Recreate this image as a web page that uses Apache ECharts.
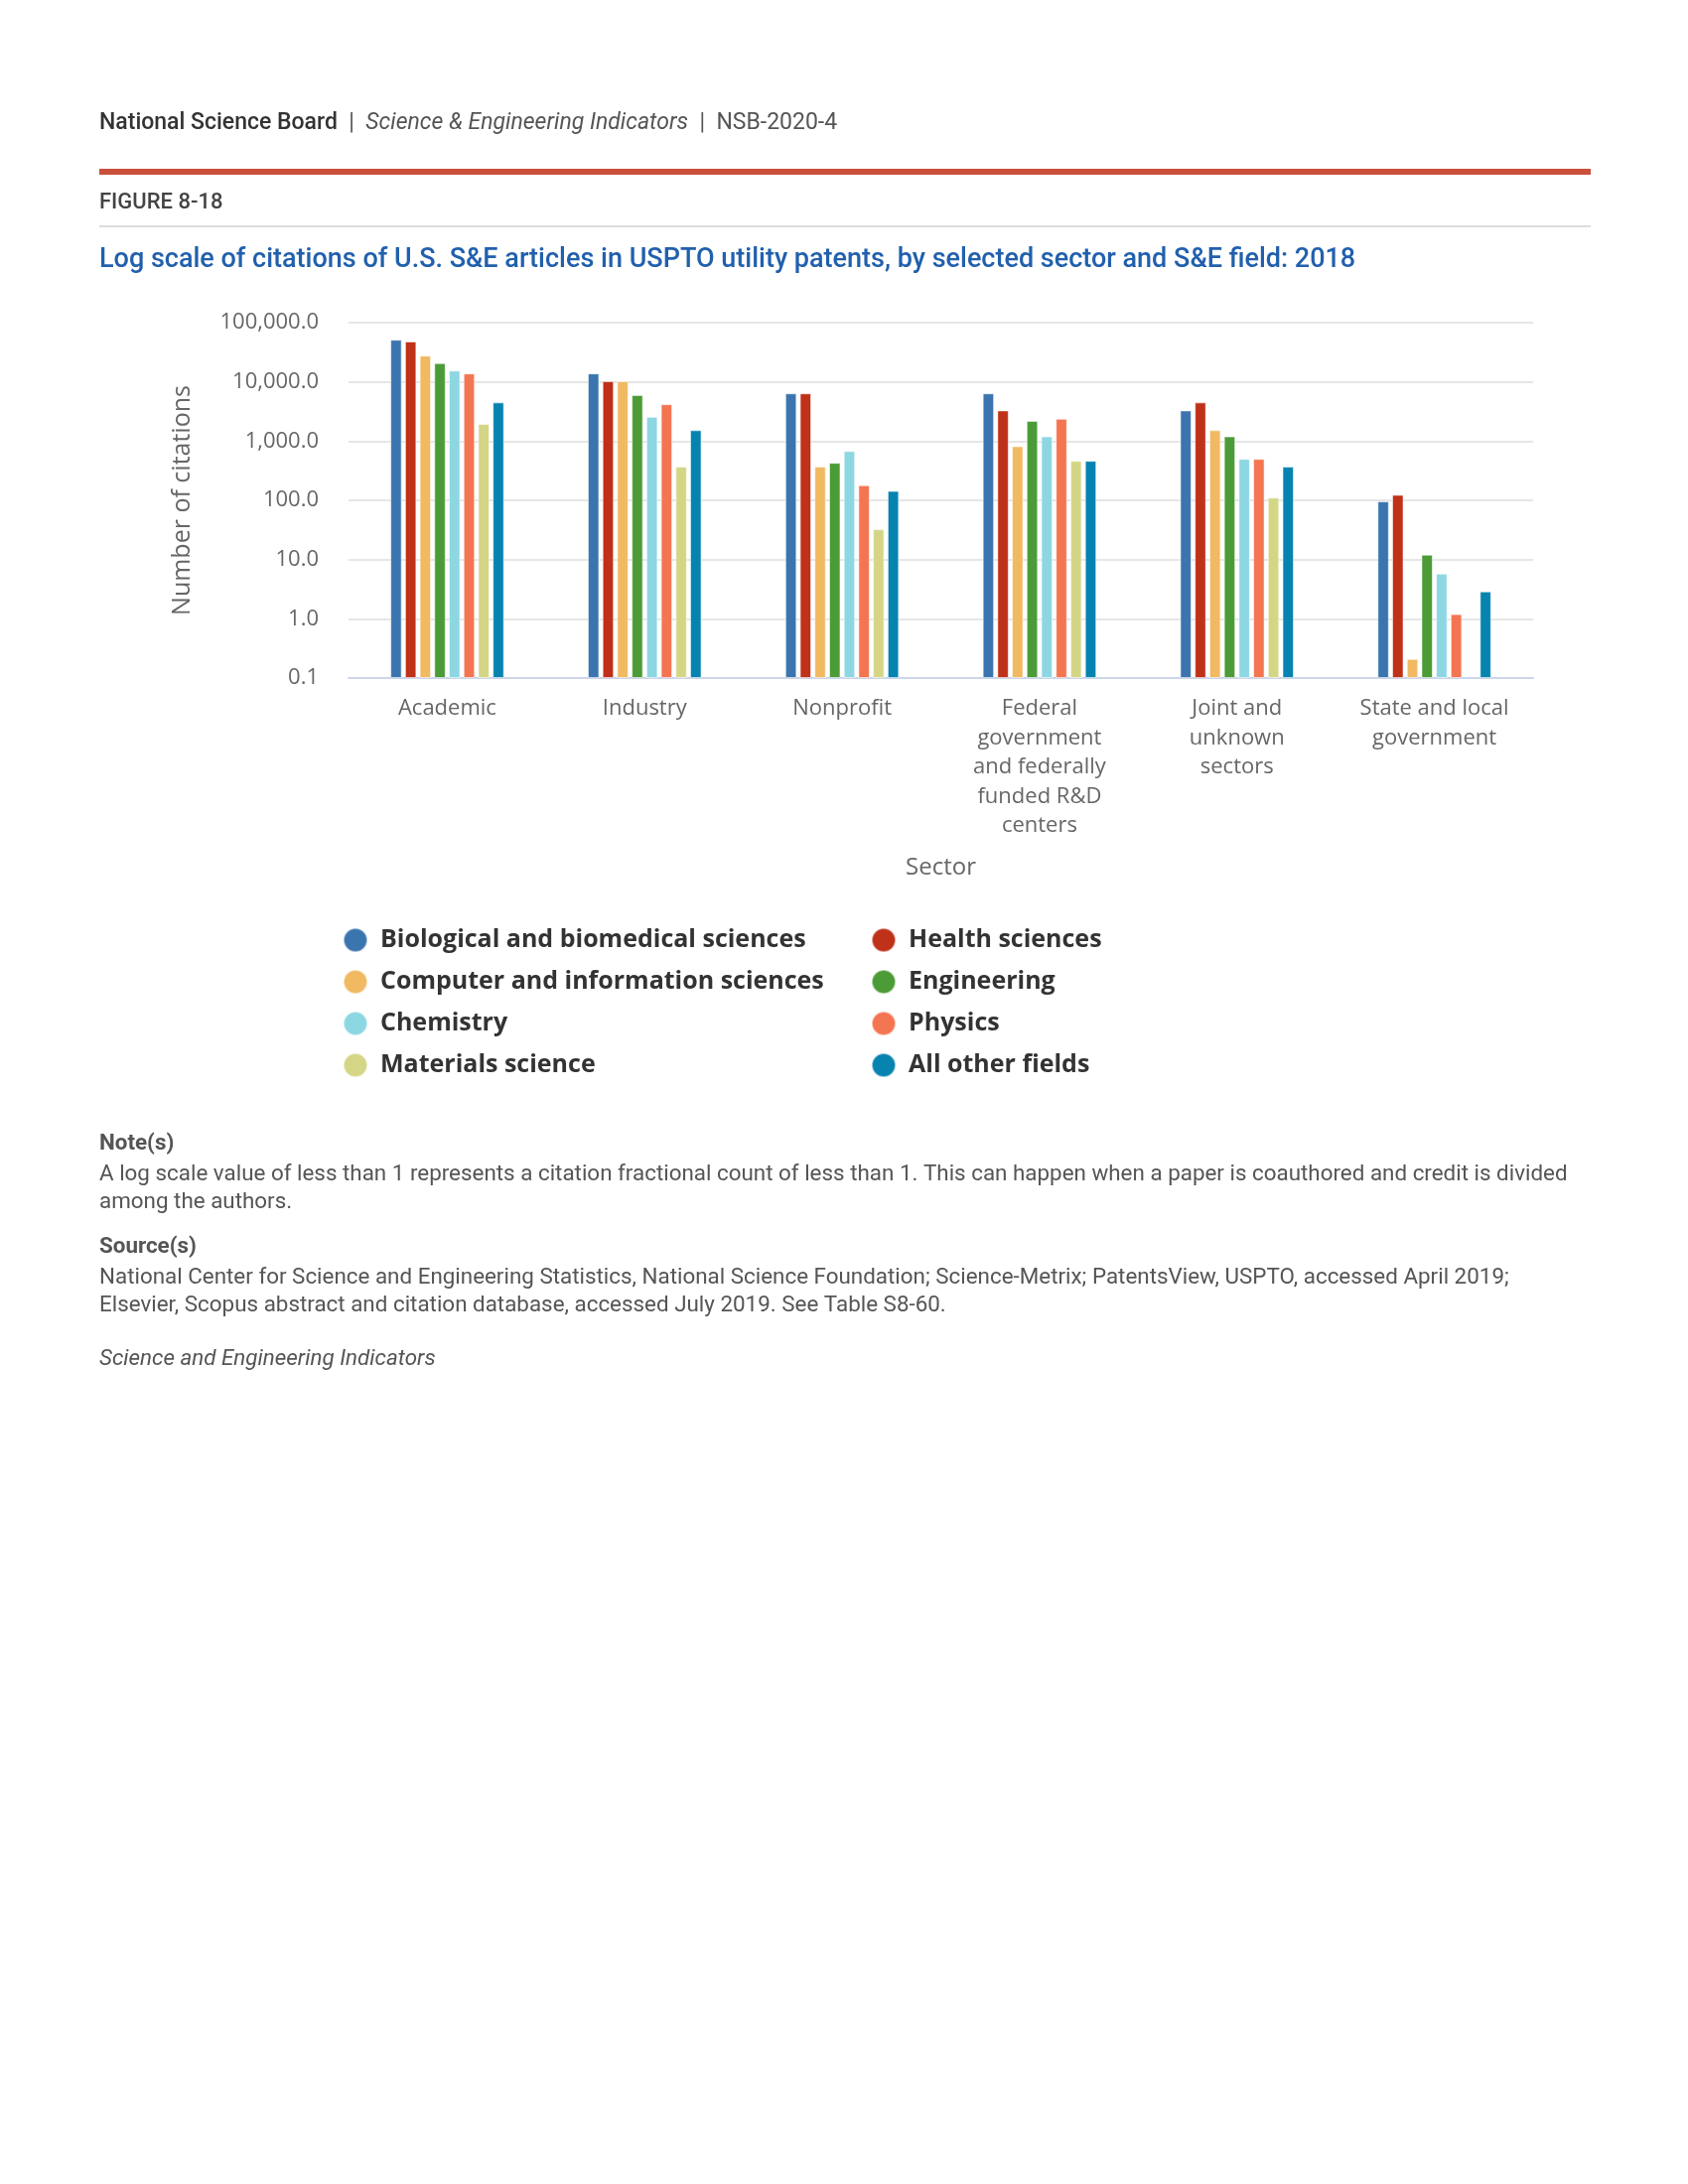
<!DOCTYPE html>
<html>
<head>
<meta charset="utf-8">
<script src="https://cdn.jsdelivr.net/npm/echarts@6/dist/echarts.min.js"></script>
<style>
html,body{margin:0;padding:0;background:#fff;}
#chart{width:1700px;height:2200px;}
</style>
</head>
<body>
<div id="chart"></div>
<script>
// ---- Data ----
const categories = [
  "Academic",
  "Industry",
  "Nonprofit",
  "Federal\ngovernment\nand federally\nfunded R&D\ncenters",
  "Joint and\nunknown\nsectors",
  "State and local\ngovernment"
];
const seriesNames = [
  "Biological and biomedical sciences",
  "Health sciences",
  "Computer and information sciences",
  "Engineering",
  "Chemistry",
  "Physics",
  "Materials science",
  "All other fields"
];
const biological  = [51500, 13900, 6400, 6400, 3300, 96];
const health      = [48000, 10300, 6400, 3300, 4500, 124];
const computer    = [27700, 10300, 370, 820, 1530, 0.21];
const engineering = [20700, 6000, 430, 2200, 1200, 12.1];
const chemistry   = [15500, 2570, 680, 1200, 500, 5.8];
const physics     = [13900, 4200, 180, 2380, 500, 1.2];
const materials   = [1950, 370, 32.5, 465, 111, null];
const allOther    = [4500, 1530, 144, 465, 370, 2.9];
const yTickValues = [0.1, 1, 10, 100, 1000, 10000, 100000];

const seriesValues = [biological, health, computer, engineering, chemistry, physics, materials, allOther];
const colors = ["#3b75af", "#bf3118", "#f0b962", "#4b9b37", "#8dd7e3", "#f47551", "#d4d686", "#0783b0"];

// log10 mapping with the axis starting at 0.1 (so bars rise from the bottom of the plot)
const LOG_MIN = Math.log10(yTickValues[0]);
const toAxis = v => (v === null || v === undefined) ? null : Math.log10(v) - LOG_MIN;
const fromAxis = a => Math.pow(10, a + LOG_MIN);
const fmt = v => v.toLocaleString('en-US', {minimumFractionDigits: 1, maximumFractionDigits: 1});

const chart = echarts.init(document.getElementById('chart'), null, {renderer: 'canvas'});

const series = seriesNames.map((name, i) => ({
  name: name,
  type: 'bar',
  barWidth: 11.5,
  barGap: '28%',
  barCategoryGap: '40%',
  itemStyle: {color: colors[i], borderColor: 'rgba(255,255,255,0.55)', borderWidth: 1},
  data: seriesValues[i].map(toAxis)
}));

const legendTextStyle = {fontFamily: 'Open Sans', fontWeight: 'bold', fontSize: 25, color: '#333', padding: [0, 0, 0, 8]};

const option = {
  backgroundColor: '#ffffff',
  animation: false,
  color: colors,
  grid: {left: 351, top: 325, width: 1193, height: 358},
  xAxis: {
    type: 'category',
    data: categories,
    name: 'Sector',
    nameLocation: 'middle',
    nameGap: 179,
    nameTextStyle: {fontFamily: 'Open Sans', fontSize: 24, color: '#666'},
    axisLine: {lineStyle: {color: '#ccd6eb', width: 2}},
    axisTick: {alignWithLabel: true, length: 16, lineStyle: {color: '#ccd6eb', width: 1.5}},
    axisLabel: {interval: 0, fontFamily: 'Open Sans', fontSize: 22, color: '#666', lineHeight: 29.5, margin: 16}
  },
  yAxis: {
    type: 'value',
    min: 0,
    max: toAxis(yTickValues[yTickValues.length - 1]),
    interval: 1,
    name: 'Number of citations',
    nameLocation: 'middle',
    nameGap: 155,
    nameRotate: 90,
    nameTextStyle: {fontFamily: 'Open Sans', fontSize: 25, color: '#666'},
    axisLine: {show: false},
    axisTick: {show: false},
    splitLine: {lineStyle: {color: '#e6e6e6', width: 2}},
    axisLabel: {
      fontFamily: 'Open Sans', fontSize: 22, color: '#666', margin: 30,
      formatter: a => fmt(fromAxis(a))
    }
  },
  legend: [
    {
      orient: 'vertical', left: 340, top: 929, itemWidth: 24, itemHeight: 24, itemGap: 16,
      icon: 'circle', data: [seriesNames[0], seriesNames[2], seriesNames[4], seriesNames[6]],
      textStyle: legendTextStyle
    },
    {
      orient: 'vertical', left: 872, top: 929, itemWidth: 24, itemHeight: 24, itemGap: 16,
      icon: 'circle', data: [seriesNames[1], seriesNames[3], seriesNames[5], seriesNames[7]],
      textStyle: legendTextStyle
    }
  ],
  series: series,
  graphic: [
    {type: 'text', left: 100, top: 113, style: {
      text: '{b|National Science Board}{n|  |  }{i|Science & Engineering Indicators}{n|  |  NSB-2020-4}',
      rich: {
        b: {fontFamily: 'Roboto', fontWeight: 500, fontSize: 23, fill: '#333'},
        n: {fontFamily: 'Roboto', fontSize: 23, fill: '#555'},
        i: {fontFamily: 'Roboto', fontStyle: 'italic', fontSize: 23, fill: '#555'}
      }
    }},
    {type: 'rect', shape: {x: 100, y: 170, width: 1502, height: 6}, style: {fill: '#c9503a'}},
    {type: 'text', left: 100, top: 193, style: {text: 'FIGURE 8-18', fontFamily: 'Roboto', fontWeight: 500, fontSize: 22, fill: '#444'}},
    {type: 'rect', shape: {x: 100, y: 227, width: 1502, height: 2}, style: {fill: '#dcdcdc'}},
    {type: 'text', left: 100, top: 249, style: {text: 'Log scale of citations of U.S. S&E articles in USPTO utility patents, by selected sector and S&E field: 2018', fontFamily: 'Roboto', fontWeight: 500, fontSize: 27, fill: '#2160ad'}},
    {type: 'text', left: 100, top: 1141, style: {text: 'Note(s)', fontFamily: 'Roboto', fontWeight: 'bold', fontSize: 22.4, fill: '#555'}},
    {type: 'text', left: 100, top: 1172, style: {text: 'A log scale value of less than 1 represents a citation fractional count of less than 1. This can happen when a paper is coauthored and credit is divided', fontFamily: 'Roboto', fontSize: 22.4, fill: '#555'}},
    {type: 'text', left: 100, top: 1200, style: {text: 'among the authors.', fontFamily: 'Roboto', fontSize: 22.4, fill: '#555'}},
    {type: 'text', left: 100, top: 1245, style: {text: 'Source(s)', fontFamily: 'Roboto', fontWeight: 'bold', fontSize: 22.4, fill: '#555'}},
    {type: 'text', left: 100, top: 1276, style: {text: 'National Center for Science and Engineering Statistics, National Science Foundation; Science-Metrix; PatentsView, USPTO, accessed April 2019;', fontFamily: 'Roboto', fontSize: 22.4, fill: '#555'}},
    {type: 'text', left: 100, top: 1304, style: {text: 'Elsevier, Scopus abstract and citation database, accessed July 2019. See Table S8-60.', fontFamily: 'Roboto', fontSize: 22.4, fill: '#555'}},
    {type: 'text', left: 100, top: 1358, style: {text: 'Science and Engineering Indicators', fontFamily: 'Roboto', fontStyle: 'italic', fontSize: 22.4, fill: '#555'}}
  ]
};
chart.setOption(option);
</script>
</body>
</html>
